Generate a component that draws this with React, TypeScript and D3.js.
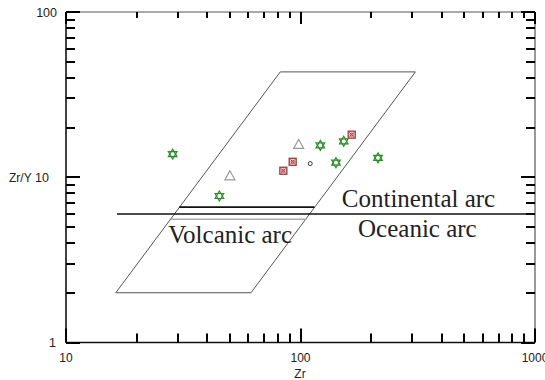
import { useEffect, useRef } from "react";
import * as d3 from "d3";

// sample groups (Zr in ppm, Zr/Y ratio)
const starZr = [28.5, 121.5, 152.9, 141.7, 214.1, 45.1];
const starZrY = [13.8, 15.6, 16.5, 12.25, 13.1, 7.7];
const triZr = [98.2, 50.0];
const triZrY = [15.8, 10.2];
const boxZr = [165.4, 92.6, 84.5];
const boxZrY = [18.1, 12.4, 10.95];
const dotZr = [110];
const dotZrY = [12.1];

// volcanic arc field (parallelogram)
const fieldZr = [16.3, 61.5, 309, 82];
const fieldZrY = [2, 2, 43.4, 43.4];

// divider between continental and oceanic arcs
const dividerZr = [16.5, 1000];
const dividerZrY = 6.0;
const upperZr = [30.4, 114.7];
const upperZrY = 6.6;
const lowerZr = [28.0, 106.1];
const lowerZrY = 5.57;

const xTicks = [10, 100, 1000];
const yTicks = [1, 10, 100];
const xTickLabels = ["10", "100", "1000"];
const yTickLabels = ["1", "10", "100"];

const fieldLabels = ["Continental arc", "Oceanic arc", "Volcanic arc"];
const fieldLabelZr = [150, 176, 27.3];
const fieldLabelZrY = [6.63, 4.35, 4.0];

export default function App() {
  const svgRef = useRef<SVGSVGElement | null>(null);

  useEffect(() => {
    if (!svgRef.current) return;
    const svg = d3.select(svgRef.current);
    svg.selectAll("*").remove();

    const left = 66, right = 535, top = 12, bottom = 342.5;
    const x = d3.scaleLog().domain([10, 1000]).range([left, right]);
    const y = d3.scaleLog().domain([1, 100]).range([bottom, top]);
    const px = (v: number) => Math.round(x(v));
    const py = (v: number) => Math.round(y(v));

    const minorX: number[] = [];
    [10, 100].forEach(d => { for (let k = 2; k <= 9; k++) minorX.push(d * k); });
    const minorY: number[] = [];
    [1, 10].forEach(d => { for (let k = 2; k <= 9; k++) minorY.push(d * k); });

    // frame: top / right thin, left / bottom darker
    svg.append("line").attr("x1", left).attr("x2", right).attr("y1", top).attr("y2", top)
      .attr("stroke", "#555").attr("stroke-width", 1);
    svg.append("line").attr("x1", right).attr("x2", right).attr("y1", top).attr("y2", bottom)
      .attr("stroke", "#333").attr("stroke-width", 1);
    svg.append("line").attr("x1", left).attr("x2", right).attr("y1", bottom).attr("y2", bottom)
      .attr("stroke", "#111").attr("stroke-width", 1.6);
    svg.append("line").attr("x1", left).attr("x2", left).attr("y1", top).attr("y2", bottom)
      .attr("stroke", "#111").attr("stroke-width", 1.6);

    const ticks = svg.append("g").attr("stroke", "#000").attr("stroke-width", 2);
    const majorLen = 14, minorLen = 9, topLen = 6;
    // bottom & top
    xTicks.forEach(v => {
      ticks.append("line").attr("x1", px(v)).attr("x2", px(v)).attr("y1", bottom).attr("y2", bottom - majorLen);
      ticks.append("line").attr("x1", px(v)).attr("x2", px(v)).attr("y1", top).attr("y2", top + 12);
    });
    minorX.forEach(v => {
      ticks.append("line").attr("x1", px(v)).attr("x2", px(v)).attr("y1", bottom).attr("y2", bottom - minorLen);
      ticks.append("line").attr("x1", px(v)).attr("x2", px(v)).attr("y1", top).attr("y2", top + topLen);
    });
    // left & right
    yTicks.forEach(v => {
      ticks.append("line").attr("y1", py(v)).attr("y2", py(v)).attr("x1", left).attr("x2", left + majorLen);
      ticks.append("line").attr("y1", py(v)).attr("y2", py(v)).attr("x1", right).attr("x2", right - majorLen);
    });
    minorY.forEach(v => {
      ticks.append("line").attr("y1", py(v)).attr("y2", py(v)).attr("x1", left).attr("x2", left + minorLen);
      ticks.append("line").attr("y1", py(v)).attr("y2", py(v)).attr("x1", right).attr("x2", right - minorLen);
    });

    const sans = "'Liberation Sans', Arial, sans-serif";
    const serif = "'Liberation Serif', 'Times New Roman', serif";
    svg.selectAll("text.xt").data(xTicks).enter().append("text")
      .attr("x", d => x(d)).attr("y", 362).attr("text-anchor", "middle")
      .attr("font-family", sans).attr("font-size", 12).attr("fill", "#222")
      .text((_d, i) => xTickLabels[i]);
    const yLabelEnd: Record<string, number> = { "1": 56, "10": 49, "100": 57 };
    svg.selectAll("text.yt").data(yTicks).enter().append("text")
      .attr("x", (_d, i) => yLabelEnd[yTickLabels[i]]).attr("y", d => y(d) + 4.5).attr("text-anchor", "end")
      .attr("font-family", sans).attr("font-size", 12.5).attr("fill", "#222")
      .text((_d, i) => yTickLabels[i]);
    svg.append("text").attr("x", 300).attr("y", 377.5).attr("text-anchor", "middle")
      .attr("font-family", sans).attr("font-size", 12).attr("fill", "#222").text("Zr");
    svg.append("text").attr("x", 9).attr("y", 182)
      .attr("font-family", sans).attr("font-size", 12).attr("fill", "#222").text("Zr/Y");

    // field polygon
    const pts = fieldZr.map((z, i) => [x(z), y(fieldZrY[i])] as [number, number]);
    svg.append("path").attr("d", d3.line()(pts) + "Z")
      .attr("fill", "none").attr("stroke", "#555").attr("stroke-width", 1);

    svg.append("line").attr("x1", x(dividerZr[0])).attr("x2", x(dividerZr[1]))
      .attr("y1", y(dividerZrY)).attr("y2", y(dividerZrY)).attr("stroke", "#111").attr("stroke-width", 1.5);
    svg.append("line").attr("x1", x(upperZr[0])).attr("x2", x(upperZr[1]))
      .attr("y1", y(upperZrY)).attr("y2", y(upperZrY)).attr("stroke", "#111").attr("stroke-width", 1.8);
    svg.append("line").attr("x1", x(lowerZr[0])).attr("x2", x(lowerZr[1]))
      .attr("y1", y(lowerZrY)).attr("y2", y(lowerZrY)).attr("stroke", "#aaa").attr("stroke-width", 1.5);

    svg.selectAll("text.field").data(fieldLabels).enter().append("text")
      .attr("x", (_d, i) => x(fieldLabelZr[i])).attr("y", (_d, i) => y(fieldLabelZrY[i]))
      .attr("font-family", serif).attr("font-size", 25)
      .attr("fill", "#222").text(d => d);

    // markers
    const r = 5, h = r * 0.866;
    const hexUp = `M0,${-r}L${h},${r / 2}L${-h},${r / 2}Z`;
    const hexDown = `M0,${r}L${h},${-r / 2}L${-h},${-r / 2}Z`;
    const stars = svg.selectAll("g.star").data(starZr).enter().append("g")
      .attr("transform", (d, i) => `translate(${x(d)},${y(starZrY[i])})`);
    stars.append("path").attr("d", hexUp).attr("fill", "none").attr("stroke", "#2a8f2a").attr("stroke-width", 1.2);
    stars.append("path").attr("d", hexDown).attr("fill", "none").attr("stroke", "#2a8f2a").attr("stroke-width", 1.2);

    svg.selectAll("path.tri").data(triZr).enter().append("path")
      .attr("transform", (d, i) => `translate(${x(d)},${y(triZrY[i])})`)
      .attr("d", "M0,-5L5,4L-5,4Z").attr("fill", "none").attr("stroke", "#999").attr("stroke-width", 1.2);

    const boxes = svg.selectAll("g.box").data(boxZr).enter().append("g")
      .attr("transform", (d, i) => `translate(${x(d)},${y(boxZrY[i])})`);
    boxes.append("rect").attr("x", -3.5).attr("y", -3.5).attr("width", 7).attr("height", 7)
      .attr("fill", "#f3dede").attr("stroke", "#9c3a3a").attr("stroke-width", 1.3);
    boxes.append("path").attr("d", "M-2.5,-2.5L2.5,2.5M2.5,-2.5L-2.5,2.5")
      .attr("stroke", "#9c3a3a").attr("stroke-width", 0.8);
    boxes.append("circle").attr("r", 1.6).attr("fill", "none").attr("stroke", "#9c3a3a").attr("stroke-width", 0.8);

    svg.selectAll("circle.dot").data(dotZr).enter().append("circle")
      .attr("cx", d => x(d)).attr("cy", (_d, i) => y(dotZrY[i])).attr("r", 2)
      .attr("fill", "#fff").attr("stroke", "#333").attr("stroke-width", 1);
  }, []);

  return (
    <svg ref={svgRef} width={545} height={380}
      style={{ position: "absolute", left: 0, top: 0, background: "#fff" }} />
  );
}
